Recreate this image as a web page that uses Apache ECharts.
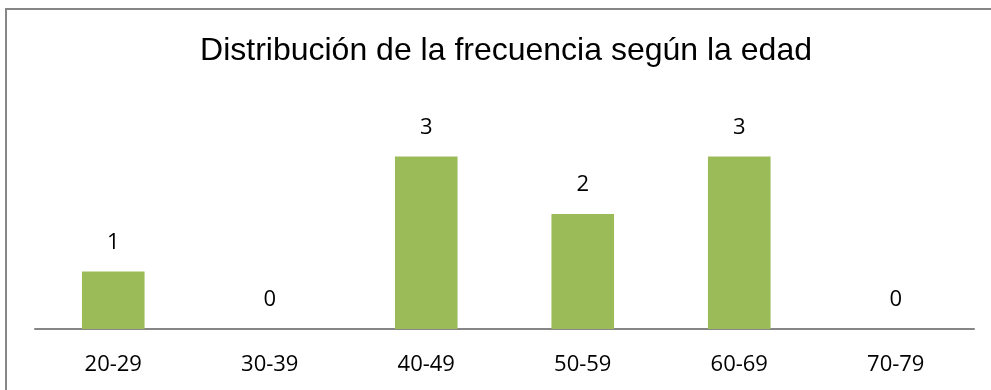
<!DOCTYPE html>
<html><head><meta charset="utf-8">
<script src="https://cdn.jsdelivr.net/npm/echarts@6/dist/echarts.min.js"></script>
<style>
html,body{margin:0;padding:0;background:#fff;overflow:hidden;width:991px;height:390px;}
#frame{position:absolute;left:5px;top:8px;width:986px;height:382px;border-left:2px solid #868686;border-top:2px solid #868686;box-sizing:border-box;}
#c{position:absolute;left:0;top:0;width:991px;height:390px;}
</style></head>
<body>
<div id="frame"></div>
<div id="c"></div>
<script>
const categories = ["20-29","30-39","40-49","50-59","60-69","70-79"];
const frecuencia = [1,0,3,2,3,0];
const titleText = "Distribución de la frecuencia según la edad";

const chart = echarts.init(document.getElementById('c'), null, {renderer:'canvas'});
chart.setOption({
  animation:false,
  title:{text:titleText,left:501,textAlign:'center',top:30,
    textStyle:{fontFamily:'Liberation Sans',fontSize:32,fontWeight:'normal',color:'#000'}},
  grid:{left:35,right:17,top:99,bottom:61},
  xAxis:{type:'category',data:categories,
    axisLine:{lineStyle:{color:'#868686',width:2}},
    axisTick:{show:false},
    axisLabel:{margin:25,fontFamily:'Open Sans',fontSize:22,color:'#000'}},
  yAxis:{type:'value',min:0,max:4,show:false,splitLine:{show:false}},
  series:[{type:'bar',data:frecuencia,barWidth:'40%',
    itemStyle:{color:'#9BBB59'},
    label:{show:true,position:'top',distance:18,fontFamily:'Open Sans',fontSize:22,color:'#000'}}]
});
</script>
</body></html>
